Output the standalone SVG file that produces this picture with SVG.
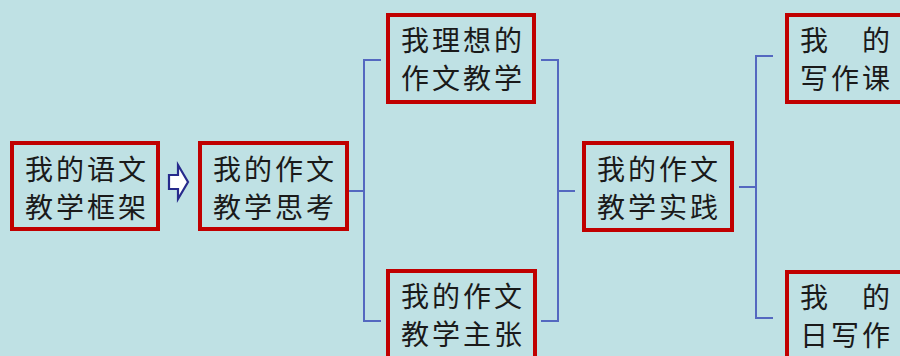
<svg xmlns="http://www.w3.org/2000/svg" width="900" height="356" viewBox="0 0 900 356">
<style>
.box{fill:#bfe1e4;stroke:#c00000;stroke-width:4}
.t{font-family:"Noto Sans CJK SC","Noto Sans CJK JP",sans-serif;font-size:28px;fill:#1a1a1a;letter-spacing:3px;dominant-baseline:central}
.c{text-anchor:middle}
.ln{fill:none;stroke:#5468c0;stroke-width:2}
</style>
<rect x="0" y="0" width="900" height="356" fill="#bfe1e4"/>
<g id="connectors">
<polygon points="169,175 178,175 178,165 188,182 178,199 178,189 169,189" fill="#ffffff" stroke="#262a8c" stroke-width="2.2" stroke-linejoin="miter"/>
<path class="ln" d="M348,191 H364 M381,60 H364 V321 H381"/>
<path class="ln" d="M541,60 H558 V321 H541 M558,191 H575"/>
<path class="ln" d="M739,187 H756 M773,56 H756 V318 H773"/>
</g>
<g id="n1">
<rect class="box" x="12" y="143" width="146" height="86"/>
<text class="t c"><tspan x="87" y="168">我的语文</tspan><tspan x="87" y="206">教学框架</tspan></text>
</g>
<g id="n2">
<rect class="box" x="200" y="143" width="147" height="86"/>
<text class="t c"><tspan x="275" y="168">我的作文</tspan><tspan x="275" y="206">教学思考</tspan></text>
</g>
<g id="n3">
<rect class="box" x="388" y="15" width="146" height="87"/>
<text class="t c"><tspan x="463" y="39">我理想的</tspan><tspan x="463" y="77">作文教学</tspan></text>
</g>
<g id="n4">
<rect class="box" x="388" y="271" width="147" height="100"/>
<text class="t c"><tspan x="463" y="295">我的作文</tspan><tspan x="463" y="333">教学主张</tspan></text>
</g>
<g id="n5">
<rect class="box" x="584" y="143" width="148" height="87"/>
<text class="t c"><tspan x="659" y="168">我的作文</tspan><tspan x="659" y="206">教学实践</tspan></text>
</g>
<g id="n6">
<rect class="box" x="787" y="15" width="150" height="87"/>
<text class="t"><tspan x="800" y="39">我</tspan><tspan x="862" y="39">的</tspan><tspan x="800" y="77">写作课</tspan></text>
</g>
<g id="n7">
<rect class="box" x="787" y="272" width="150" height="100"/>
<text class="t"><tspan x="800" y="296">我</tspan><tspan x="862" y="296">的</tspan><tspan x="800" y="334">日写作</tspan></text>
</g>
</svg>
